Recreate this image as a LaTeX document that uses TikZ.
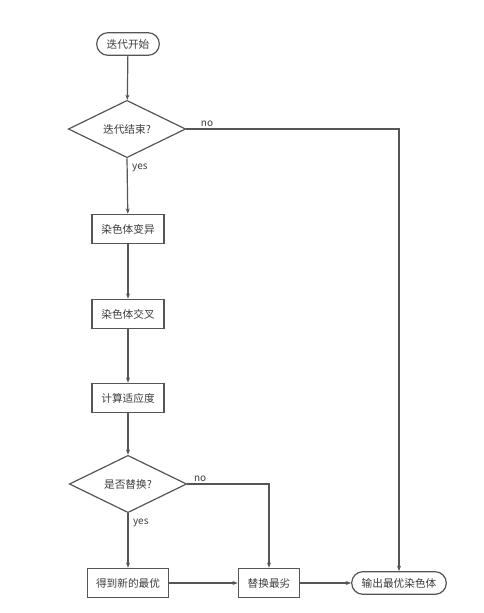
\documentclass[tikz,border=0pt]{standalone}
\usepackage{fontspec}
\setmainfont{Noto Sans CJK SC}
\usetikzlibrary{arrows.meta, shapes.geometric}
\definecolor{flline}{RGB}{85, 85, 85}
\definecolor{fltext}{RGB}{60, 60, 60}

\begin{document}
\begin{tikzpicture}[x=0.75pt, y=-0.75pt, >={Stealth[length=4pt, width=3pt]},
  every node/.style={font=\fontsize{8}{10}\selectfont, text=fltext},
  terminal/.style={draw=flline, line width=0.9pt, rounded corners=8.5pt,
    minimum height=17pt, inner sep=1pt},
  procbox/.style={draw=flline, line width=0.9pt, minimum height=22pt, inner sep=1pt},
  decision/.style={draw=flline, line width=0.9pt, diamond, aspect=2.05,
    minimum width=88pt, minimum height=43pt, inner sep=0pt},
  flow/.style={->, flline, line width=0.9pt},
  branch/.style={font=\fontsize{7.5}{9}\selectfont}]

  % --- canvas ---
  \useasboundingbox (0,0) rectangle (484,613);

  % --- main column ---
  \node[terminal, minimum width=47pt] (start) at (128,44) {迭代开始};
  \node[decision] (endq) at (127,129) {迭代结束?};
  \node[procbox, minimum width=54pt] (mutate) at (128,229) {染色体变异};
  \node[procbox, minimum width=54pt] (cross) at (128,314) {染色体交叉};
  \node[procbox, minimum width=54pt] (fitness) at (128,398) {计算适应度};
  \node[decision] (swapq) at (128,484) {是否替换?};
  \node[procbox, minimum width=61pt] (newbest) at (128,583) {得到新的最优};

  % --- bottom row ---
  \node[procbox, minimum width=46pt] (worst) at (269,583) {替换最劣};
  \node[terminal, minimum width=71pt] (output) at (399,583) {输出最优染色体};

  % --- connectors ---
  \draw[flow] (start) -- (endq);
  \draw[flow] (endq.south) -- (mutate)
    node[pos=0.18, right, branch] {yes};
  \draw[flow] (mutate) -- (cross);
  \draw[flow] (cross) -- (fitness);
  \draw[flow] (fitness) -- (swapq);
  \draw[flow] (swapq.south) -- (newbest)
    node[pos=0.17, right, branch] {yes};
  \draw[flow] (newbest) -- (worst);
  \draw[flow] (worst) -- (output);
  \draw[flow] (swapq.east) -| (worst.north)
    node[pos=0.03, above right, branch, inner sep=1pt] {no};
  \draw[flow] (endq.east) -| (output.north)
    node[pos=0.03, above right, branch, inner sep=1pt] {no};

\end{tikzpicture}
\end{document}
